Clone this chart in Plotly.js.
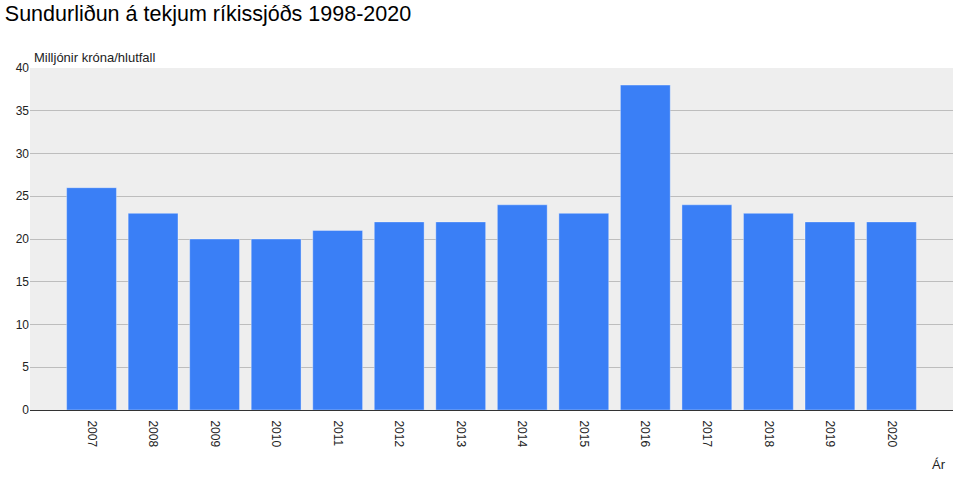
<!DOCTYPE html>
<html><head><meta charset="utf-8">
<script src="https://cdn.plot.ly/plotly-3.0.1.min.js"></script>
<style>body{margin:0;background:#fff}#c{width:964px;height:492px}</style>
</head><body><div id="c"></div>
<script>
const years = ['2007','2008','2009','2010','2011','2012','2013','2014','2015','2016','2017','2018','2019','2020'];
const values = [26,23,20,20,21,22,22,24,23,38,24,23,22,22];
const yTicks = [0,5,10,15,20,25,30,35,40];

const trace = {
  type:'bar', x: years, y: values,
  marker:{color:'#3a7ff6', line:{color:'rgba(255,255,255,0.35)', width:1}},
  hoverinfo:'x+y'
};
const layout = {
  width:964, height:492,
  margin:{l:30, r:11, t:68, b:82},
  paper_bgcolor:'#ffffff', plot_bgcolor:'#eeeeee',
  font:{family:'Liberation Sans, Arial, sans-serif', size:12, color:'#222'},
  title:{text:'Sundurliðun á tekjum ríkissjóðs 1998-2020', x:0.005, xanchor:'left', y:0.972, yanchor:'middle', font:{size:21.5, color:'#000'}},
  bargap:0.19,
  showlegend:false,
  xaxis:{type:'category', range:[-1,14], tickangle:90, ticks:'', showgrid:false, zeroline:false, ticklabelstandoff:7,
         showline:true, linecolor:'#333', linewidth:1, tickfont:{size:12, color:'#222'}},
  yaxis:{range:[0,40], tickvals:yTicks, ticktext:yTicks.map(String), showgrid:true, gridcolor:'#bdbdbd', gridwidth:1,
         zeroline:true, zerolinecolor:'#333', zerolinewidth:1, tickfont:{size:12, color:'#222'}, ticklen:0, ticks:''},
  annotations:[
    {text:'Milljónir króna/hlutfall', xref:'paper', yref:'paper', x:0.002, y:1.0, xanchor:'left', yanchor:'bottom', yshift:1, showarrow:false, font:{size:13, color:'#222'}},
    {text:'Ár', xref:'paper', yref:'paper', x:0.995, y:-0.16, xanchor:'right', yanchor:'middle', showarrow:false, font:{size:13, color:'#222'}}
  ]
};
Plotly.newPlot('c',[trace],layout,{displayModeBar:false, staticPlot:true});
</script></body></html>
